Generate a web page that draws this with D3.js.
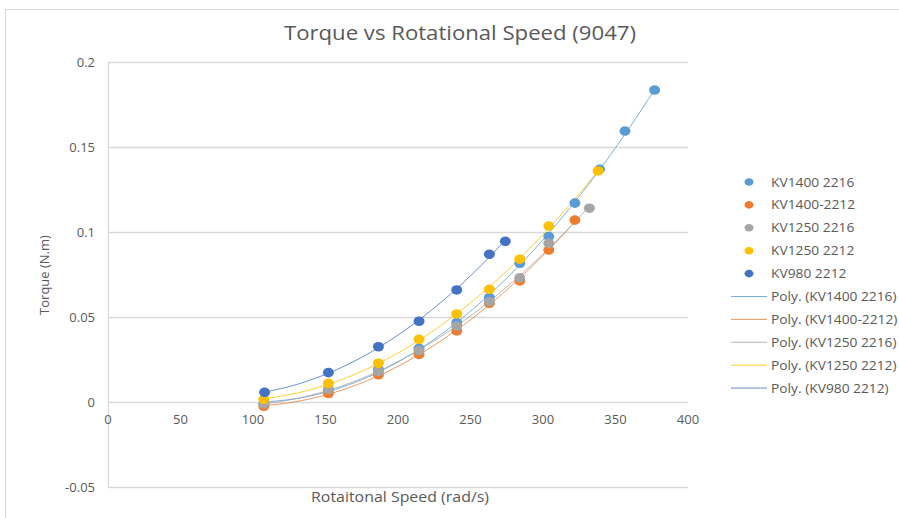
<!DOCTYPE html>
<html>
<head>
<meta charset="utf-8">
<script src="https://cdn.jsdelivr.net/npm/d3@7"></script>
<style>
  body { margin: 0; background: #fff; }
  svg text { font-family: "Open Sans", "Liberation Sans", sans-serif; fill: #595959; }
</style>
</head>
<body>
<div id="chart"></div>
<script>
// values
var seriesNames = ["KV1400 2216", "KV1400-2212", "KV1250 2216", "KV1250 2212", "KV980 2212"];
var seriesColors = ["#5B9BD5", "#ED7D31", "#A5A5A5", "#FFC000", "#4472C4"];

var kv1400_2216_x = [107.5, 152, 186.5, 214.5, 240.5, 263, 284, 304, 322, 339, 356.5, 377];
var kv1400_2216_y = [-0.001, 0.007, 0.019, 0.0316, 0.0467, 0.0614, 0.0816, 0.0973, 0.117, 0.1369, 0.1594, 0.1835];

var kv1400_2212_x = [107.5, 152, 186.5, 214.5, 240.5, 263, 284, 304, 322];
var kv1400_2212_y = [-0.0025, 0.005, 0.016, 0.028, 0.0418, 0.058, 0.0712, 0.0894, 0.107];

var kv1250_2216_x = [107.5, 152, 186.5, 214.5, 240.5, 263, 284, 304, 332];
var kv1250_2216_y = [-0.0012, 0.0075, 0.018, 0.0302, 0.0447, 0.059, 0.073, 0.0933, 0.114];

var kv1250_2212_x = [107.5, 152, 186.5, 214.5, 240.5, 263, 284, 304, 338];
var kv1250_2212_y = [0.0016, 0.011, 0.0228, 0.0369, 0.0518, 0.0663, 0.084, 0.1035, 0.1359];

var kv980_2212_x = [108, 152, 186.5, 214.5, 240.5, 263, 274];
var kv980_2212_y = [0.0057, 0.0173, 0.0325, 0.0475, 0.0659, 0.0869, 0.0945];

var xTicks = [0, 50, 100, 150, 200, 250, 300, 350, 400];
var yTicks = [-0.05, 0, 0.05, 0.1, 0.15, 0.2];

var allX = [kv1400_2216_x, kv1400_2212_x, kv1250_2216_x, kv1250_2212_x, kv980_2212_x];
var allY = [kv1400_2216_y, kv1400_2212_y, kv1250_2216_y, kv1250_2212_y, kv980_2212_y];

var W = 899, H = 518;
var svg = d3.select("#chart").append("svg").attr("width", W).attr("height", H);

// chart frame
svg.append("rect").attr("x", 5.5).attr("y", 9.5).attr("width", W).attr("height", H)
  .attr("fill", "none").attr("stroke", "#d9d9d9");

var x = d3.scaleLinear().domain([0, 400]).range([108, 688]);
var y = d3.scaleLinear().domain([-0.05, 0.2]).range([487, 62]);

// gridlines
svg.append("g").selectAll("line").data(yTicks).enter().append("line")
  .attr("x1", x(0)).attr("x2", x(400))
  .attr("y1", function(d) { return Math.round(y(d)) + 0.5; })
  .attr("y2", function(d) { return Math.round(y(d)) + 0.5; })
  .attr("stroke", "#d9d9d9").attr("stroke-width", 1.3);

// vertical axis line
svg.append("line").attr("x1", x(0) + 0.5).attr("x2", x(0) + 0.5)
  .attr("y1", y(0.2)).attr("y2", y(-0.05))
  .attr("stroke", "#d9d9d9").attr("stroke-width", 1.3);

// y tick labels
svg.append("g").selectAll("text").data(yTicks).enter().append("text")
  .attr("x", 95).attr("y", function(d) { return y(d) + 4.5; })
  .attr("text-anchor", "end").attr("font-size", 13)
  .text(function(d) { return d; });

// x tick labels, placed below the zero line
svg.append("g").selectAll("text").data(xTicks).enter().append("text")
  .attr("x", function(d) { return x(d); }).attr("y", y(0) + 22)
  .attr("text-anchor", "middle").attr("font-size", 13)
  .text(function(d) { return d; });

// titles (the original text is a bit wider, stretch it)
svg.append("text").attr("x", 460).attr("y", 40).attr("text-anchor", "middle")
  .attr("font-size", 20).attr("textLength", 352).attr("lengthAdjust", "spacingAndGlyphs")
  .text("Torque vs Rotational Speed (9047)");
svg.append("text").attr("x", 400).attr("y", 502).attr("text-anchor", "middle")
  .attr("font-size", 14).attr("textLength", 178).attr("lengthAdjust", "spacingAndGlyphs")
  .text("Rotaitonal Speed (rad/s)");
svg.append("text").attr("transform", "translate(49,275) rotate(-90)")
  .attr("text-anchor", "middle").attr("font-size", 13).text("Torque (N.m)");

// quadratic least squares, like the spreadsheet's order-2 trendline
function polyFit(xs, ys) {
  var n = xs.length, s = [0, 0, 0, 0, 0], t = [0, 0, 0];
  for (var i = 0; i < n; i++) {
    var p = 1;
    for (var k = 0; k < 5; k++) { s[k] += p; if (k < 3) t[k] += p * ys[i]; p *= xs[i]; }
  }
  var A = [[s[0], s[1], s[2], t[0]], [s[1], s[2], s[3], t[1]], [s[2], s[3], s[4], t[2]]];
  for (var c = 0; c < 3; c++) {
    for (var r = c + 1; r < 3; r++) {
      var f = A[r][c] / A[c][c];
      for (var j = c; j < 4; j++) A[r][j] -= f * A[c][j];
    }
  }
  var b = [0, 0, 0];
  for (var r2 = 2; r2 >= 0; r2--) {
    var v = A[r2][3];
    for (var j2 = r2 + 1; j2 < 3; j2++) v -= A[r2][j2] * b[j2];
    b[r2] = v / A[r2][r2];
  }
  return function(v) { return b[0] + b[1] * v + b[2] * v * v; };
}

var line = d3.line().x(function(d) { return x(d[0]); }).y(function(d) { return y(d[1]); });

allX.forEach(function(xs, si) {
  var f = polyFit(xs, allY[si]);
  var lo = d3.min(xs), hi = d3.max(xs);
  var pts = d3.range(0, 61).map(function(i) { var v = lo + (hi - lo) * i / 60; return [v, f(v)]; });
  svg.append("path").datum(pts).attr("d", line)
    .attr("fill", "none").attr("stroke", seriesColors[si]).attr("stroke-width", 1).attr("opacity", 0.8);
});

allX.forEach(function(xs, si) {
  svg.append("g").selectAll("ellipse").data(xs).enter().append("ellipse")
    .attr("cx", function(d) { return x(d); })
    .attr("cy", function(d, i) { return y(allY[si][i]); })
    .attr("rx", 5.5).attr("ry", 4.8)
    .attr("fill", seriesColors[si]);
});

// legend
var legend = svg.append("g");
function legendText(ly, label) {
  var t = legend.append("text").attr("x", 771).attr("y", ly + 4.5).attr("font-size", 13).text(label);
  var w = t.node().getComputedTextLength();
  t.attr("textLength", w * 1.06).attr("lengthAdjust", "spacingAndGlyphs");
}
seriesNames.forEach(function(name, i) {
  var ly = 182 + i * 22.9;
  legend.append("ellipse").attr("cx", 749).attr("cy", ly).attr("rx", 4.5).attr("ry", 3.8)
    .attr("fill", seriesColors[i]);
  legendText(ly, name);
});
seriesNames.forEach(function(name, i) {
  var ly = 182 + (i + 5) * 22.9;
  legend.append("line").attr("x1", 731).attr("x2", 767).attr("y1", ly).attr("y2", ly)
    .attr("stroke", seriesColors[i]).attr("stroke-width", 1).attr("opacity", 0.8);
  legendText(ly, "Poly. (" + name + ")");
});
</script>
</body>
</html>
